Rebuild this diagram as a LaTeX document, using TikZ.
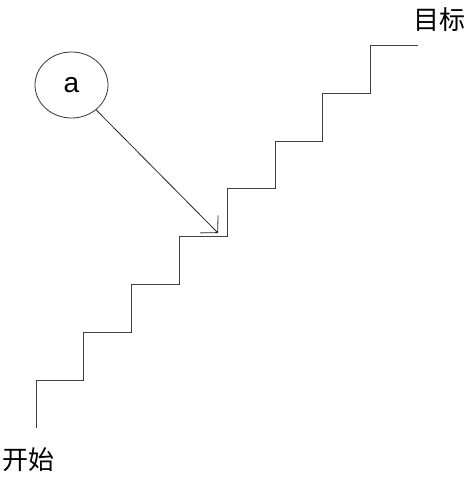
\documentclass[tikz,border=0pt]{standalone}
\usepackage{fontspec}
\setmainfont{Liberation Sans}
\newfontfamily\cjk{Noto Sans CJK SC}
\usepackage{tikz}
\usetikzlibrary{arrows.meta,shapes}
\tikzstyle{stair}=[draw=black!75,line width=1pt]
\tikzstyle{bubble}=[ellipse,draw=black!80,line width=0.8pt,minimum width=73pt,minimum height=66pt,inner sep=0pt,font=\fontsize{28}{32}\selectfont]
\tikzstyle{tag}=[inner sep=0pt,font=\cjk\fontsize{26}{30}\selectfont]
\tikzstyle{pointer}=[draw=black!85,line width=0.8pt,-{Straight Barb[length=12pt,width=25pt]}]

\begin{document}
\begin{tikzpicture}[x=1pt,y=-1pt]
    \useasboundingbox (0,0) rectangle (472,480);
    % the staircase, eight risers
    \draw[stair] (36,428) -- (36,380)
        \foreach \i in {1,...,7} { -- ++(47.8,0) -- ++(0,-47.8) } -- ++(47.8,0);
    % the two ends
    \node[tag] (start) at (28,460) {开始};
    \node[tag] (goal) at (439,20) {目标};
    % the bubble and where it points
    \node[bubble] (a) at (71.5,85) {a};
    \coordinate (landing) at (218,233);
    \path[pointer] (a) -- (landing);
\end{tikzpicture}
\end{document}
